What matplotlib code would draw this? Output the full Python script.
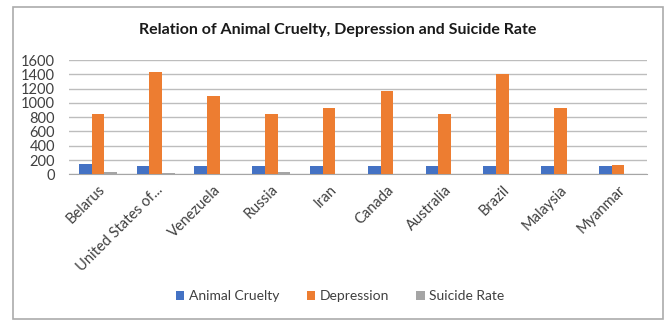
import numpy as np
import matplotlib.pyplot as plt
from matplotlib.patches import Rectangle

countries = ['Belarus', 'United States of...', 'Venezuela', 'Russia', 'Iran',
             'Canada', 'Australia', 'Brazil', 'Malaysia', 'Myanmar']
animal_cruelty = [140, 110, 110, 110, 110, 110, 110, 110, 110, 110]
depression = [850, 1430, 1090, 850, 925, 1165, 850, 1410, 925, 125]
suicide_rate = [30, 15, 0, 30, 0, 0, 0, 0, 0, 0]

series = [
    ('Animal Cruelty', animal_cruelty, '#4472C4'),
    ('Depression', depression, '#ED7D31'),
    ('Suicide Rate', suicide_rate, '#A5A5A5'),
]

plt.rcParams['font.family'] = ['Lato', 'DejaVu Sans']

fig = plt.figure(figsize=(6.67, 3.2), dpi=100)
ax = fig.add_axes([0.1034, 0.4553, 0.8666, 0.3572])

x = np.arange(len(countries))
w = 0.22
for i, (name, vals, color) in enumerate(series):
    ax.bar(x + (i - 1) * w, vals, width=w, color=color, label=name, zorder=3)

ax.set_xlim(-0.5, len(countries) - 0.5)
ax.set_ylim(0, 1600)
ax.set_yticks(range(0, 1601, 200))
ax.grid(axis='y', color='#BDBDBD', linewidth=1, zorder=0)
ax.set_xticks(x)
ax.set_xticklabels(countries, rotation=45, ha='right', rotation_mode='anchor')
ax.tick_params(axis='both', length=0, labelsize=10.5, colors='#404040')
ax.tick_params(axis='x', pad=6)
ax.tick_params(axis='y', pad=10)
for side in ['top', 'right', 'left']:
    ax.spines[side].set_visible(False)
ax.spines['bottom'].set_color('#A6A6A6')

fig.text(0.507, 0.905, 'Relation of Animal Cruelty, Depression and Suicide Rate',
         ha='center', va='center', fontsize=11.5, fontweight='bold', color='#1a1a1a')

handles, labels = ax.get_legend_handles_labels()
fig.legend(handles, labels, loc='center', bbox_to_anchor=(0.51, 0.075), ncol=3,
           frameon=False, fontsize=10, handlelength=0.6, handleheight=0.6,
           handletextpad=0.3, columnspacing=2.0, labelcolor='#404040')

fig.patches.append(Rectangle((13 / 667, 1 / 320), 650 / 667, 312 / 320,
                             transform=fig.transFigure, fill=False,
                             edgecolor='#ABABAB', linewidth=1.2))

fig.savefig('out.png', dpi=100)
